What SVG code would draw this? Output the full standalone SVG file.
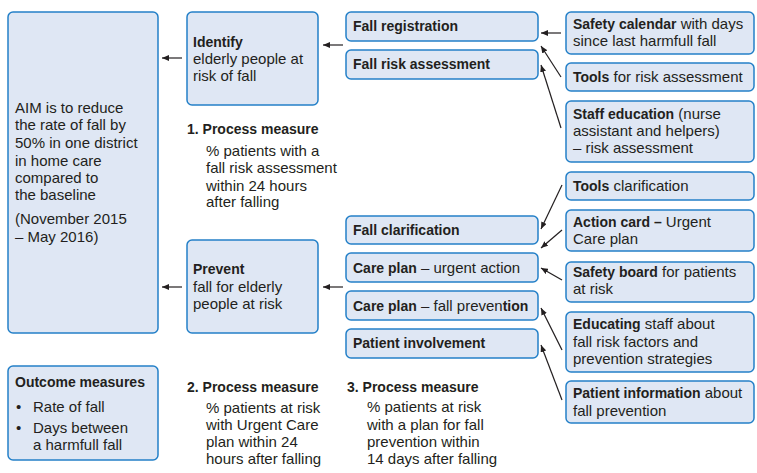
<svg xmlns="http://www.w3.org/2000/svg" width="757" height="473" viewBox="0 0 757 473">
<defs>
<style>
.box{fill:#dfe7f4;stroke:#2480c8;stroke-width:1.5}
text{font-family:"Liberation Sans",Arial,sans-serif;font-size:15px;fill:#231f20}
.b{font-weight:bold;font-size:14px}
.c{stroke:#231f20;stroke-width:1.2;fill:none;marker-end:url(#ah)}
</style>
<marker id="ah" markerUnits="userSpaceOnUse" markerWidth="8" markerHeight="6" refX="7" refY="3" orient="auto">
<path d="M0,0 L7,3 L0,6 Z" fill="#231f20"/>
</marker>
</defs>
<rect width="757" height="473" fill="#ffffff"/>

<g id="aim">
<rect class="box" x="8" y="12" width="150" height="321" rx="5"/>
<text x="15" y="113">AIM is to reduce</text>
<text x="15" y="130">the rate of fall by</text>
<text x="15" y="148">50% in one district</text>
<text x="15" y="166">in home care</text>
<text x="15" y="183">compared to</text>
<text x="15" y="200">the baseline</text>
<text x="15" y="224">(November 2015</text>
<text x="15" y="242">– May 2016)</text>
</g>

<g id="outcome">
<rect class="box" x="8" y="366" width="150" height="94" rx="5"/>
<text class="b" x="15" y="387">Outcome measures</text>
<text x="16" y="412">•</text>
<text x="33" y="412">Rate of fall</text>
<text x="16" y="433">•</text>
<text x="33" y="433">Days between</text>
<text x="33" y="450">a harmfull fall</text>
</g>

<g id="identify">
<rect class="box" x="187" y="12" width="131" height="93" rx="5"/>
<text class="b" x="193" y="47">Identify</text>
<text x="193" y="64">elderly people at</text>
<text x="193" y="81">risk of fall</text>
</g>

<g id="prevent">
<rect class="box" x="187" y="240" width="131" height="93" rx="5"/>
<text class="b" x="193" y="274">Prevent</text>
<text x="193" y="292">fall for elderly</text>
<text x="193" y="309">people at risk</text>
</g>

<g id="pm1">
<text class="b" x="187" y="134">1. Process measure</text>
<text x="206" y="156">% patients with a</text>
<text x="206" y="173">fall risk assessment</text>
<text x="206" y="191">within 24 hours</text>
<text x="206" y="207">after falling</text>
</g>

<g id="pm2">
<text class="b" x="187" y="392">2. Process measure</text>
<text x="206" y="413">% patients at risk</text>
<text x="206" y="430">with Urgent Care</text>
<text x="206" y="447">plan within 24</text>
<text x="206" y="464">hours after falling</text>
</g>

<g id="pm3">
<text class="b" x="347" y="392">3. Process measure</text>
<text x="367" y="412">% patients at risk</text>
<text x="367" y="430">with a plan for fall</text>
<text x="367" y="447">prevention within</text>
<text x="367" y="464">14 days after falling</text>
</g>

<g id="fall-registration">
<rect class="box" x="346" y="12" width="192" height="29" rx="5"/>
<text class="b" x="353" y="31">Fall registration</text>
</g>
<g id="fall-risk-assessment">
<rect class="box" x="346" y="50" width="192" height="29" rx="5"/>
<text class="b" x="353" y="69">Fall risk assessment</text>
</g>
<g id="fall-clarification">
<rect class="box" x="346" y="216" width="192" height="28" rx="5"/>
<text class="b" x="353" y="235">Fall clarification</text>
</g>
<g id="care-plan-urgent">
<rect class="box" x="346" y="253" width="192" height="29" rx="5"/>
<text x="353" y="273"><tspan class="b">Care plan</tspan> – urgent action</text>
</g>
<g id="care-plan-prevention">
<rect class="box" x="346" y="291" width="192" height="29" rx="5"/>
<text x="353" y="311"><tspan class="b">Care plan</tspan> – fall preven<tspan class="b">tion</tspan></text>
</g>
<g id="patient-involvement">
<rect class="box" x="346" y="329" width="192" height="29" rx="5"/>
<text class="b" x="353" y="348">Patient involvement</text>
</g>

<g id="safety-calendar">
<rect class="box" x="566" y="12" width="188" height="42" rx="5"/>
<text x="573" y="29"><tspan class="b">Safety calendar</tspan> with days</text>
<text x="573" y="46">since last harmfull fall</text>
</g>
<g id="tools-risk">
<rect class="box" x="566" y="63" width="188" height="28" rx="5"/>
<text x="573" y="82"><tspan class="b">Tools</tspan> for risk assessment</text>
</g>
<g id="staff-education">
<rect class="box" x="566" y="101" width="188" height="61" rx="5"/>
<text x="573" y="119"><tspan class="b">Staff education</tspan> (nurse</text>
<text x="573" y="136">assistant and helpers)</text>
<text x="573" y="153">– risk assessment</text>
</g>
<g id="tools-clarification">
<rect class="box" x="566" y="172" width="188" height="28" rx="5"/>
<text x="573" y="191"><tspan class="b">Tools</tspan> clarification</text>
</g>
<g id="action-card">
<rect class="box" x="566" y="210" width="188" height="41" rx="5"/>
<text x="573" y="227"><tspan class="b">Action card –</tspan> Urgent</text>
<text x="573" y="244">Care plan</text>
</g>
<g id="safety-board">
<rect class="box" x="566" y="262" width="188" height="40" rx="5"/>
<text x="573" y="277"><tspan class="b">Safety board</tspan> for patients</text>
<text x="573" y="294">at risk</text>
</g>
<g id="educating">
<rect class="box" x="566" y="312" width="188" height="60" rx="5"/>
<text x="573" y="329"><tspan class="b">Educating</tspan> staff about</text>
<text x="573" y="347">fall risk factors and</text>
<text x="573" y="364">prevention strategies</text>
</g>
<g id="patient-information">
<rect class="box" x="566" y="381" width="188" height="42" rx="5"/>
<text x="573" y="398"><tspan class="b">Patient information</tspan> about</text>
<text x="573" y="416">fall prevention</text>
</g>

<g id="connectors">
<line class="c" x1="182" y1="58" x2="162" y2="58"/>
<line class="c" x1="343" y1="45" x2="323" y2="45"/>
<line class="c" x1="182" y1="287" x2="162" y2="287"/>
<line class="c" x1="343" y1="287" x2="323" y2="287"/>
<line class="c" x1="561" y1="33" x2="541" y2="33"/>
<line class="c" x1="561" y1="77" x2="541" y2="46"/>
<line class="c" x1="561" y1="128" x2="541" y2="65"/>
<line class="c" x1="562" y1="185" x2="541" y2="229"/>
<line class="c" x1="562" y1="230" x2="541" y2="248"/>
<line class="c" x1="562" y1="280" x2="541" y2="268"/>
<line class="c" x1="562" y1="350" x2="541" y2="308"/>
<line class="c" x1="562" y1="400" x2="541" y2="345"/>
</g>
</svg>
